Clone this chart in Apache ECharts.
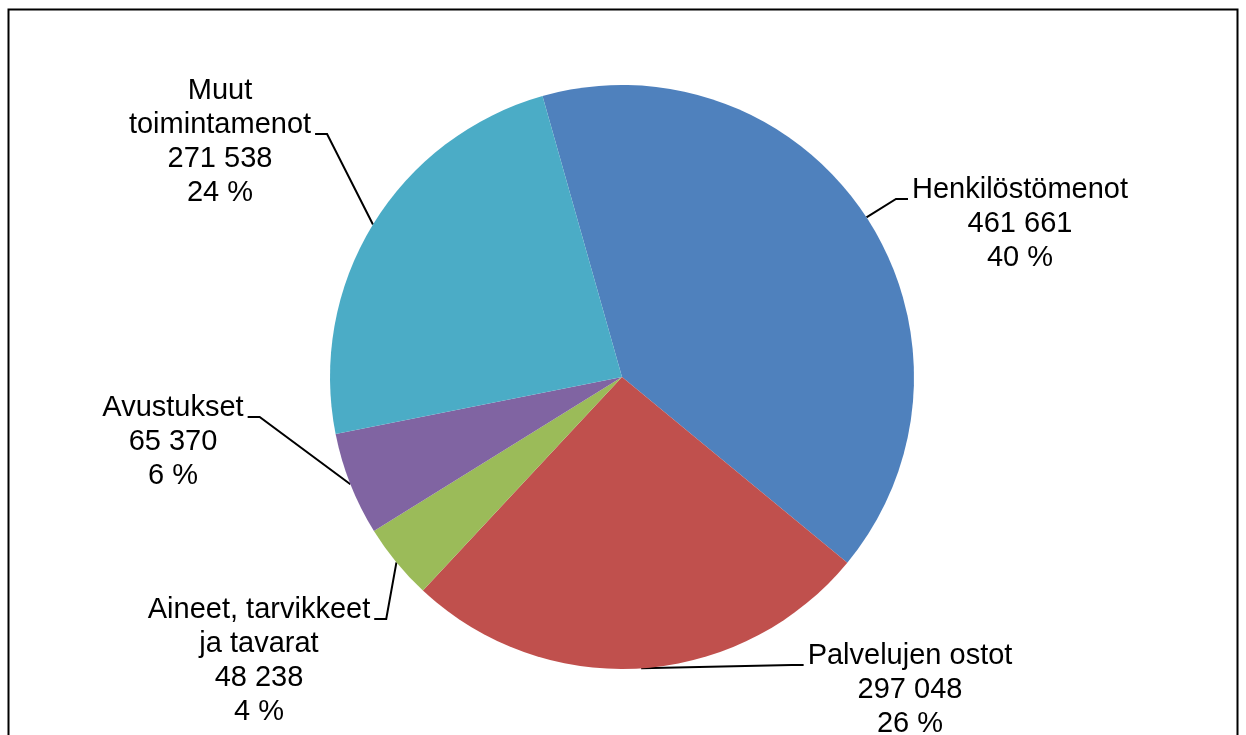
<!DOCTYPE html>
<html>
<head>
<meta charset="utf-8">
<script src="https://cdn.jsdelivr.net/npm/echarts@6/dist/echarts.min.js"></script>
<style>
html, body { margin: 0; padding: 0; background: #fff; }
#costPie { width: 1246px; height: 735px; }
</style>
</head>
<body>
<div id="costPie"></div>
<script>
// menolajit ja eurot
const categories = ['Henkilöstömenot', 'Palvelujen ostot', 'Aineet, tarvikkeet\nja tavarat', 'Avustukset', 'Muut\ntoimintamenot']
const amounts = [461661, 297048, 48238, 65370, 271538]
const sliceColors = ['#4F81BD', '#C0504D', '#9BBB59', '#8064A2', '#4BACC6']

// label placement: center x, top y, side of pie, row the leader line meets
const labelSpots = [
  { x: 1020, y: 173, side: 'right', row: 0 },
  { x: 910, y: 639, side: 'right', row: 0 },
  { x: 259, y: 593, side: 'left', row: 0 },
  { x: 173, y: 391, side: 'left', row: 0 },
  { x: 220, y: 74, side: 'left', row: 1 }
]
const LINE_H = 34

function spaced (v) {
  return String(v).replace(/\B(?=(\d{3})+(?!\d))/g, ' ')
}

const pieData = []
for (let i = 0; i < categories.length; i++) {
  pieData.push({ name: categories[i], value: amounts[i], itemStyle: { color: sliceColors[i] } })
}

const myChart = echarts.init(document.getElementById('costPie'))
const option = {
  animation: false,
  backgroundColor: '#fff',
  graphic: [
    {
      type: 'rect',
      shape: { x: 8.5, y: 9.5, width: 1229, height: 800 },
      style: { fill: 'none', stroke: '#000', lineWidth: 2 },
      silent: true
    }
  ],
  series: [
    {
      type: 'pie',
      center: [622, 377],
      radius: 292,
      startAngle: 105.8,
      clockwise: true,
      percentPrecision: 0,
      avoidLabelOverlap: false,
      label: {
        show: true,
        position: 'outside',
        fontFamily: 'Liberation Sans, Arial, sans-serif',
        fontSize: 29,
        lineHeight: LINE_H,
        color: '#000',
        align: 'center',
        formatter: (p) => p.name + '\n' + spaced(p.value) + '\n' + p.percent + ' %'
      },
      labelLine: {
        show: true,
        length: 10,
        length2: 10,
        lineStyle: { color: '#000', width: 2 }
      },
      labelLayout: (params) => {
        const spot = labelSpots[params.dataIndex]
        const w = params.labelRect.width
        const anchor = params.labelLinePoints ? params.labelLinePoints[0] : [spot.x, spot.y]
        const ly = spot.y + LINE_H * spot.row + LINE_H / 2 + 9
        let end, mid
        if (spot.side === 'right') {
          end = [spot.x - w / 2 - 4, ly]
          mid = [end[0] - 12, ly]
        } else {
          end = [spot.x + w / 2 + 4, ly]
          mid = [end[0] + 12, ly]
        }
        return {
          x: spot.x,
          y: spot.y,
          align: 'center',
          verticalAlign: 'top',
          labelLinePoints: [anchor, mid, end]
        }
      },
      data: pieData
    }
  ]
}
myChart.setOption(option)
</script>
</body>
</html>
